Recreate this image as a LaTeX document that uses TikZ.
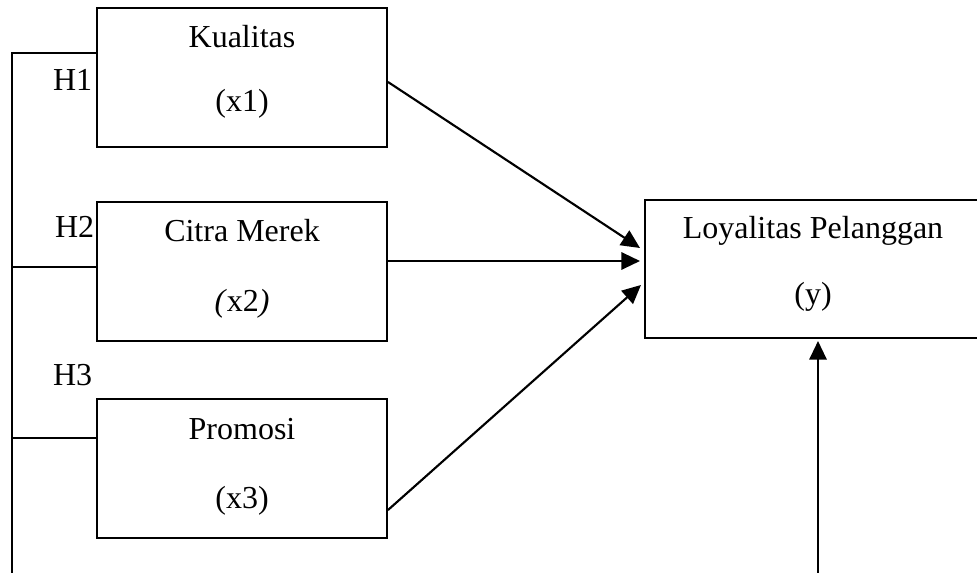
\documentclass[tikz,border=0pt]{standalone}
\usepackage{fontspec}
\setmainfont{Liberation Serif}
\usetikzlibrary{arrows.meta,calc}
\begin{document}
\begin{tikzpicture}[x=0.75pt,y=-0.75pt,
  line width=1.3pt,
  varbox/.style={draw,line width=1.3pt,minimum width=290*0.75pt,minimum height=139*0.75pt,inner sep=0pt,outer sep=0pt},
  lbl/.style={anchor=base,inner sep=0pt,font=\fontsize{24}{28}\selectfont},
  hlbl/.style={anchor=base east,inner sep=0pt,font=\fontsize{24}{28}\selectfont},
  arr/.style={-{Triangle[length=14pt,width=13pt]},line width=1.6pt}]
\useasboundingbox (0,0) rectangle (977,573);
\clip (0,0) rectangle (977,573);
% boxes
\node[varbox] (b1) at (242,77.5) {};
\node[varbox] (b2) at (242,271.5) {};
\node[varbox] (b3) at (242,468.5) {};
\node[varbox,minimum width=355*0.75pt,minimum height=138*0.75pt] (y) at (822.5,269) {};
% texts
\node[lbl] (t1a) at (242,48) {Kualitas};
\node[lbl] (t1b) at (242,112) {(x1)};
\node[lbl] (t2a) at (242,242) {Citra Merek};
\node[lbl] (t2b) at (242,311) {\textit{(}x2\textit{)}};
\node[lbl] (t3a) at (242,439) {Promosi};
\node[lbl] (t3b) at (242,508) {(x3)};
\node[lbl] (tya) at (813,239) {Loyalitas Pelanggan};
\node[lbl] (tyb) at (813,305) {(y)};
\node[hlbl] (h1) at (93,91) {H1};
\node[hlbl] (h2) at (95,238) {H2};
\node[hlbl] (h3) at (93,385) {H3};
% bracket
\coordinate (tl) at (12,53);
\coordinate (bl) at (12,580);
\coordinate (m2) at (12,267);
\coordinate (m3) at (12,438);
\draw (bl) -- (tl) -- (tl -| b1.west);
\draw (m2) -- (m2 -| b2.west);
\draw (m3) -- (m3 -| b3.west);
% arrows
\draw[arr] ($(b1.east)+(1,4.5)$) -- ($(y.west)+(-5,-21)$);
\draw[arr] ($(b2.east)+(0,-10.5)$) -- ($(y.west)+(-5,-8)$);
\draw[arr] ($(b3.east)+(1,41.5)$) -- ($(y.west)+(-4,16)$);
\coordinate (yb) at (818,580);
\draw[arr] (yb) -- ($(yb |- y.south)+(0,3)$);
\end{tikzpicture}
\end{document}
